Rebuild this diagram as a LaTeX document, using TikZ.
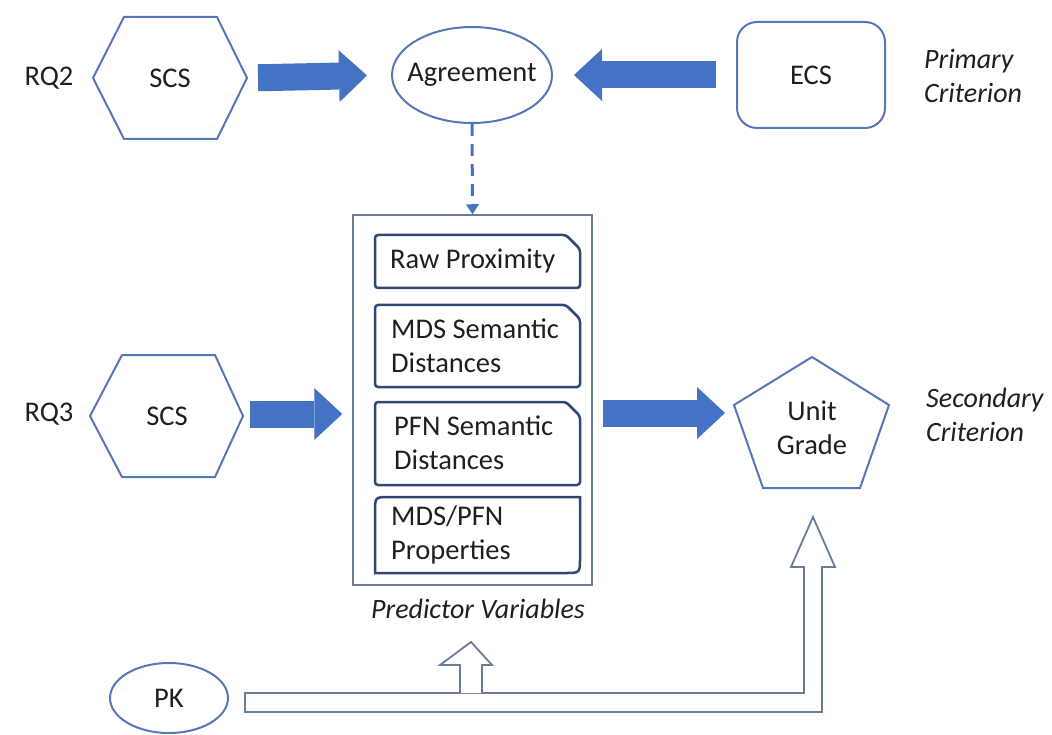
\documentclass[tikz,border=0pt]{standalone}
\usepackage{fontspec}
\setmainfont{Carlito}
\usetikzlibrary{calc,arrows.meta,shapes.geometric}
\definecolor{obl}{HTML}{4472C4}
\definecolor{oln}{HTML}{5577B8}
\definecolor{dk}{HTML}{2F4672}
\definecolor{gb}{HTML}{6A7C98}
\definecolor{txt}{HTML}{1F1F1F}
\begin{document}
\begin{tikzpicture}[x=1pt,y=-1pt,
  font=\fontsize{28.5}{34}\selectfont, text=txt,
  shp/.style={draw=oln, line width=2pt},
  blockarrow/.style={draw=obl, line width=27pt, -{Triangle[length=28pt,width=52pt,line width=0pt]}},
  dasharrow/.style={draw=obl, line width=3pt, dash pattern=on 12pt off 8pt, -{Triangle[length=10pt,width=13pt,line width=0pt]}},
  lab/.style={inner sep=0pt},
  ilab/.style={inner sep=0pt, font=\fontsize{28}{34}\selectfont\itshape, align=left, anchor=west},
  txtl/.style={inner sep=0pt, align=left, anchor=west},
  inbox/.style={draw=dk, line width=2.5pt, rounded corners=3pt},
  hollow/.style={draw=gb, line width=1.8pt, fill=white, line join=miter}
]
\useasboundingbox (0,0) rectangle (1052,735);

% ---- top row
\node[lab] (rq2) at (49,78) {RQ2};
\node[lab] (scs1) at (170,78) {SCS};
\draw[shp, shift={(scs1.center)}] (-77,0) -- (-46,-61) -- (47,-61) -- (77,0) -- (47,61) -- (-46,61) -- cycle;
\coordinate (scs1e) at ($(scs1.center)+(77,0)$);

\node[ellipse, shp, minimum width=160pt, minimum height=96pt, inner sep=0pt] (agr) at (472,75) {};
\node[lab] (agrt) at (agr.center) {Agreement};

\node[shp, rounded corners=20pt, minimum width=148pt, minimum height=106pt] (ecs) at (811,75) {ECS};

\node[ilab] (prim) at (924,76) {Primary\\Criterion};

\draw[blockarrow, shorten <=11pt, shorten >=24pt] (scs1e) -- (agr.west);
\draw[blockarrow, shorten <=20pt, shorten >=21pt] (ecs.west) -- (agr.east);

% ---- predictor box
\node[draw=gb, line width=1.5pt, minimum width=239pt, minimum height=370pt, inner sep=0pt] (pred) at (472.5,400) {};
\draw[dasharrow] (agr.south) -- (pred.north);

\draw[inbox] (375,235) -- (566,235) -- (580,249) -- (580,288) -- (375,288) -- cycle;
\node[txtl] (b1) at (390,261) {Raw Proximity};
\draw[inbox] (375,305) -- (566,305) -- (580,319) -- (580,387) -- (375,387) -- cycle;
\node[txtl] (b2) at (391,346) {MDS Semantic\\Distances};
\draw[inbox] (375,402) -- (566,402) -- (580,416) -- (580,485) -- (375,485) -- cycle;
\node[txtl] (b3) at (394,443) {PFN Semantic\\Distances};
\draw[draw=dk, line width=2.5pt] (375,512) .. controls (375,497) .. (390,497) -- (580,497) -- (580,558) .. controls (580,573) .. (565,573) -- (375,573) -- cycle;
\node[txtl] (b4) at (391,535) {MDS/PFN\\Properties};

\node[ilab, anchor=center] (predlab) at (478,609) {Predictor Variables};

% ---- middle row
\node[lab] (rq3) at (49,414) {RQ3};
\node[lab] (scs2) at (167,416) {SCS};
\draw[shp, shift={(scs2.center)}] (-77,0) -- (-45,-61) -- (48,-61) -- (76,0) -- (48,61) -- (-45,61) -- cycle;
\coordinate (scs2e) at ($(scs2.center)+(76,-2)$);
\draw[blockarrow, shorten <=7pt, shorten >=10pt] (scs2e) -- (scs2e -| pred.west);

\node[lab, align=center] (ug) at (812,428) {Unit\\Grade};
\draw[shp, shift={(ug.center)}] (0,-71) -- (77,-23) -- (48,60) -- (-49,60) -- (-78,-23) -- cycle;
\coordinate (ugw) at ($(ug.center)+(-78,-15)$);
\draw[blockarrow, shorten <=10pt, shorten >=9pt] (ugw -| pred.east) -- (ugw);

\node[ilab] (sec) at (926,415) {Secondary\\Criterion};

% ---- bottom
\node[ellipse, shp, minimum width=118pt, minimum height=70pt, inner sep=0pt] (pk) at (169,698) {};
\node[lab] (pkt) at (pk.center) {PK};

\draw[hollow] (245,693) -- (804,693) -- (804,567) -- (791,567) -- (813,517) -- (835,567) -- (822,567) -- (822,712) -- (245,712) -- cycle;
\draw[hollow] (460,693) -- (460,665) -- (440,665) -- (471,642) -- (492,665) -- (482,665) -- (482,693);
\end{tikzpicture}
\end{document}
